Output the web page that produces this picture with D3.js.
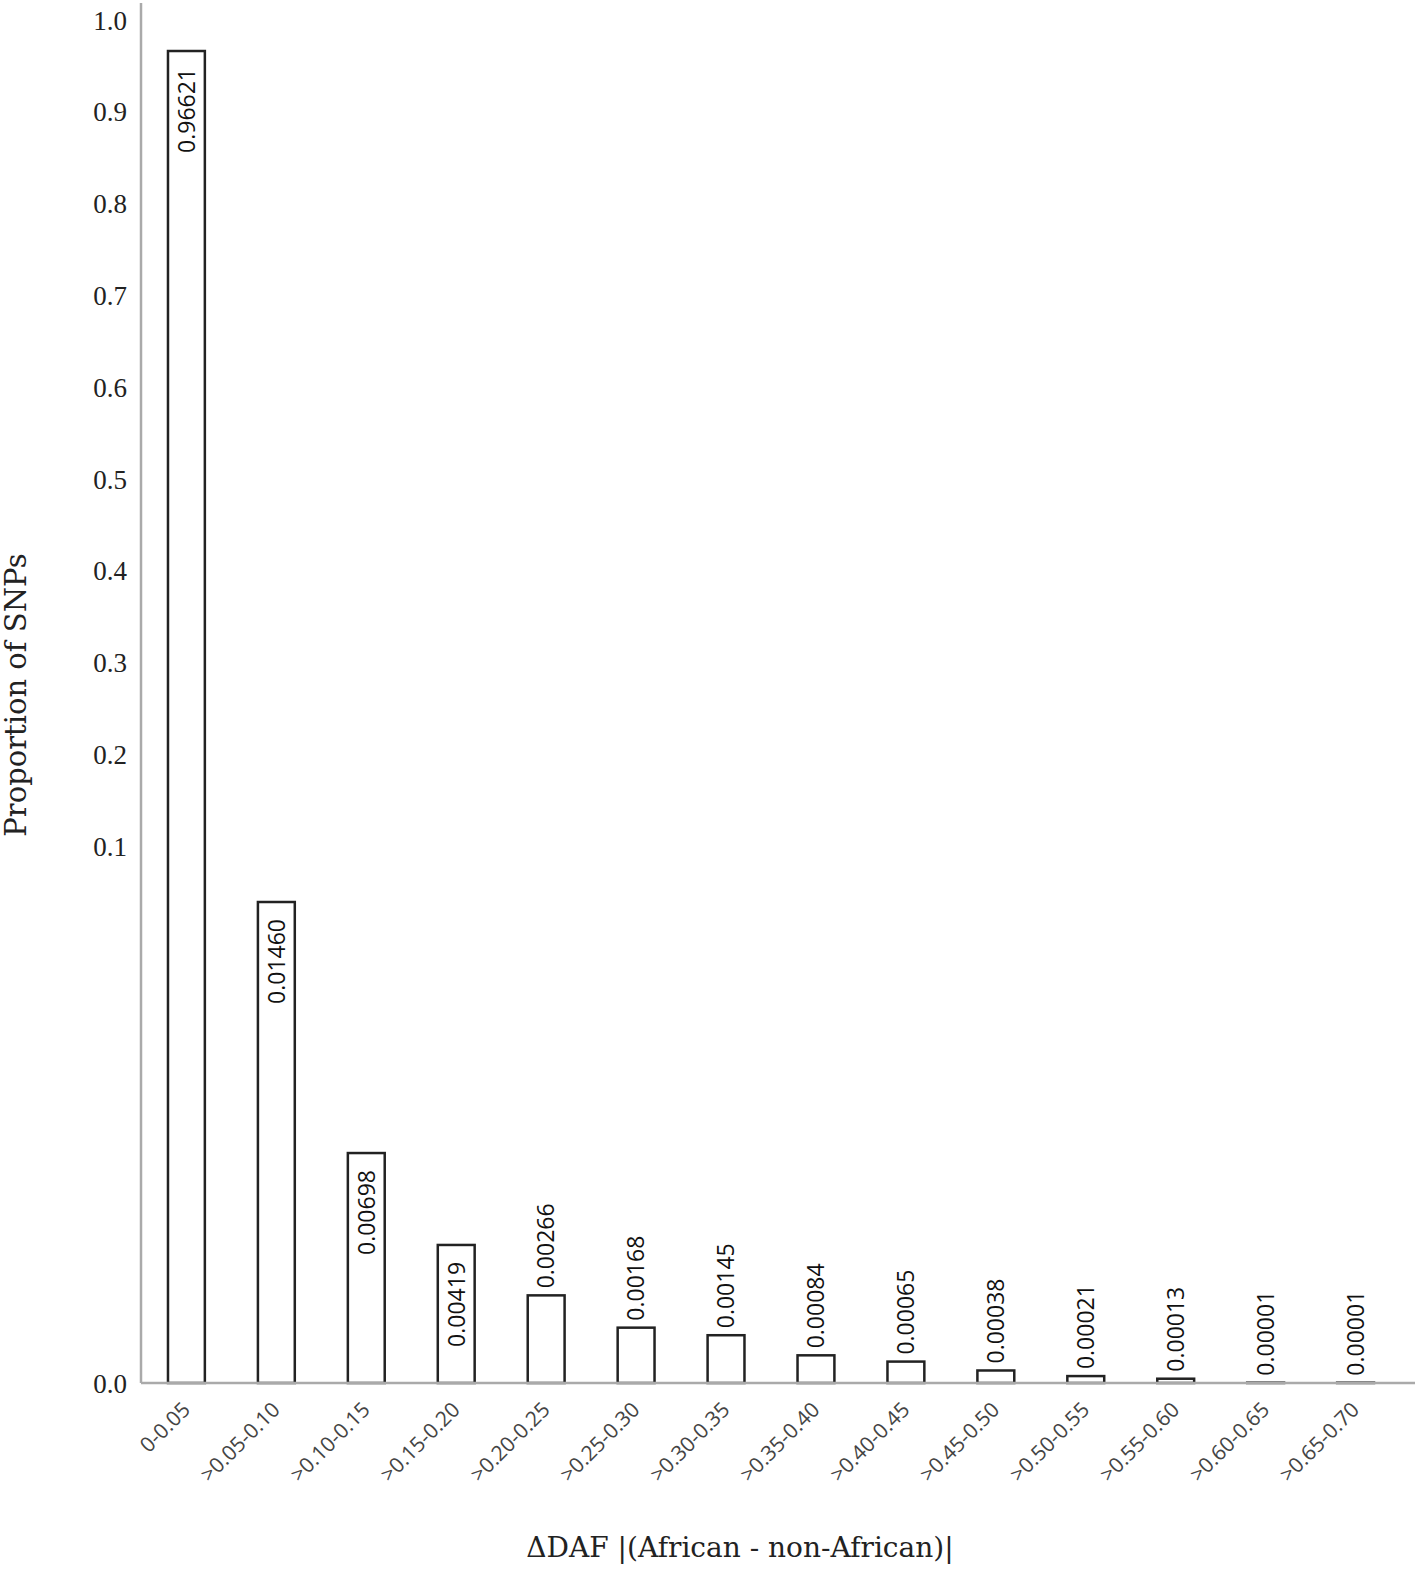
<!DOCTYPE html>
<html>
<head>
<meta charset="utf-8">
<script src="https://cdn.jsdelivr.net/npm/d3@7"></script>
<style>
  body { margin: 0; background: #fff; }
  svg { display: block; }
</style>
</head>
<body>
<div id="chart"></div>
<script>
// bins of ΔDAF and the proportion of SNPs in each
const bins = ["0-0.05", ">0.05-0.10", ">0.10-0.15", ">0.15-0.20", ">0.20-0.25", ">0.25-0.30", ">0.30-0.35",
  ">0.35-0.40", ">0.40-0.45", ">0.45-0.50", ">0.50-0.55", ">0.55-0.60", ">0.60-0.65", ">0.65-0.70"]
const props = [0.96621, 0.01460, 0.00698, 0.00419, 0.00266, 0.00168, 0.00145,
  0.00084, 0.00065, 0.00038, 0.00021, 0.00013, 0.00001, 0.00001]
const labels = ["0.96621", "0.01460", "0.00698", "0.00419", "0.00266", "0.00168", "0.00145",
  "0.00084", "0.00065", "0.00038", "0.00021", "0.00013", "0.00001", "0.00001"]
const yTicks = [0, 0.1, 0.2, 0.3, 0.4, 0.5, 0.6, 0.7, 0.8, 0.9, 1.0]
// the axis is broken: below the "0.1" tick the bars are drawn on a stretched scale
const lowBreak = 0.0163

const W = 1418, H = 1571
const mLeft = 141, mRight = 1401, mTop = 20, mBottom = 1383

const svg = d3.select("#chart").append("svg").attr("width", W).attr("height", H)
svg.append("rect").attr("width", W).attr("height", H).attr("fill", "#fff")

const x = d3.scaleBand().domain(bins).range([mLeft, mRight]).paddingInner(0.59).paddingOuter(0.3)
const y = d3.scaleLinear().domain([0, 0.1, 1]).range([mBottom, 846, mTop])
const yLow = d3.scaleLinear().domain([0, lowBreak]).range([mBottom, 846])
const yv = (v) => (v >= 0.1 ? y(v) : yLow(v))

// y axis line
svg.append("line").attr("x1", mLeft).attr("x2", mLeft).attr("y1", 3).attr("y2", mBottom)
  .attr("stroke", "#aaa").attr("stroke-width", 2.5)

// y tick labels
svg.append("g").selectAll("text").data(yTicks).enter().append("text")
  .attr("x", 127)
  .attr("y", (d) => y(d))
  .attr("dy", "0.36em")
  .attr("text-anchor", "end")
  .attr("font-family", "'Liberation Serif', 'DejaVu Serif', serif")
  .attr("font-size", 27)
  .attr("fill", "#222")
  .text((d) => d.toFixed(1))

const data = bins.map((b, i) => ({ bin: b, v: props[i], label: labels[i] }))

svg.append("g").selectAll("rect").data(data).enter().append("rect")
  .attr("x", (d) => x(d.bin))
  .attr("y", (d) => yv(d.v))
  .attr("width", x.bandwidth())
  .attr("height", (d) => mBottom - yv(d.v))
  .attr("fill", "#fff")
  .attr("stroke", "#222")
  .attr("stroke-width", 2.5)

svg.append("line").attr("x1", mLeft).attr("x2", 1415).attr("y1", mBottom).attr("y2", mBottom)
  .attr("stroke", "#aaa").attr("stroke-width", 2.5)

// value labels: inside the tall bars, above the short ones
const inside = (d) => mBottom - yv(d.v) > 120
svg.append("g").selectAll("text").data(data).enter().append("text")
  .attr("transform", (d) => {
    const cx = x(d.bin) + x.bandwidth() / 2
    return `translate(${cx},${inside(d) ? yv(d.v) + 17 : yv(d.v) - 7}) rotate(-90)`
  })
  .attr("text-anchor", (d) => (inside(d) ? "end" : "start"))
  .attr("dy", "0.36em")
  .attr("font-family", "'Open Sans', 'Noto Sans', sans-serif")
  .attr("font-size", 23)
  .attr("fill", "#111")
  .text((d) => d.label)

// x category labels
svg.append("g").selectAll("text").data(bins).enter().append("text")
  .attr("transform", (d) => `translate(${x(d) + x.bandwidth() / 2 + 5},${mBottom + 28}) rotate(-45)`)
  .attr("text-anchor", "end")
  .attr("font-family", "'Open Sans', 'Noto Sans', sans-serif")
  .attr("font-size", 21)
  .attr("fill", "#444")
  .text((d) => d)

// axis titles
svg.append("text")
  .attr("transform", `translate(26,695) rotate(-90)`)
  .attr("text-anchor", "middle")
  .attr("font-family", "'DejaVu Serif', 'Liberation Serif', serif")
  .attr("font-size", 29)
  .attr("fill", "#222")
  .text("Proportion of SNPs")

svg.append("text")
  .attr("x", 740)
  .attr("y", 1557)
  .attr("text-anchor", "middle")
  .attr("font-family", "'DejaVu Serif', 'Liberation Serif', serif")
  .attr("font-size", 28)
  .attr("fill", "#222")
  .text("ΔDAF |(African - non-African)|")
</script>
</body>
</html>
